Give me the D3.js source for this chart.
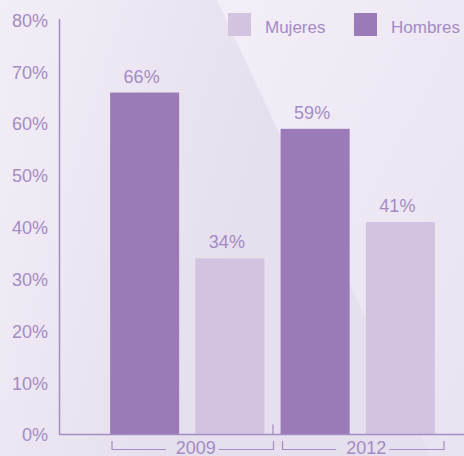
<!DOCTYPE html>
<html>
<head>
<meta charset="utf-8">
<script src="https://cdn.jsdelivr.net/npm/d3@7"></script>
<style>
  html, body { margin: 0; padding: 0; background: #ece5f2; }
  svg { display: block; font-family: "Liberation Sans", Arial, sans-serif; }
</style>
</head>
<body>
<div id="chart"></div>
<script>
// Chart data
const years = ['2009', '2012'];
const genders = ['Hombres', 'Mujeres'];
const hombres = [66, 59];
const mujeres = [34, 41];
const yTicks = [0, 10, 20, 30, 40, 50, 60, 70, 80];
const legendOrder = ['Mujeres', 'Hombres'];

const width = 464, height = 456;
const colors = { Hombres: '#9a7bb7', Mujeres: '#d2c4e1' };
const textColor = '#a38bc5';
const axisColor = '#a48cc4';

const svg = d3.select('#chart').append('svg')
    .attr('width', width)
    .attr('height', height);

// Background gradients
const defs = svg.append('defs');
const bgGrad = defs.append('linearGradient').attr('id', 'bg')
    .attr('x1', '0%').attr('y1', '0%').attr('x2', '100%').attr('y2', '30%');
bgGrad.append('stop').attr('offset', '0%').attr('stop-color', '#f2eef7');
bgGrad.append('stop').attr('offset', '60%').attr('stop-color', '#e6dfed');
const hiGrad = defs.append('linearGradient').attr('id', 'hi')
    .attr('x1', '0%').attr('y1', '0%').attr('x2', '100%').attr('y2', '100%');
hiGrad.append('stop').attr('offset', '0%').attr('stop-color', '#f3eef8');
hiGrad.append('stop').attr('offset', '100%').attr('stop-color', '#e9e2f0');

svg.append('rect').attr('width', width).attr('height', height).attr('fill', 'url(#bg)');
svg.append('path')
    .attr('d', 'M217,0 L464,0 L464,456 L430,456 Z')
    .attr('fill', 'url(#hi)');

// Scales
const y = d3.scaleLinear().domain([0, 80]).range([434.5, 20]);
const x0 = d3.scaleBand().domain(years).range([102, 443]);
const x1 = d3.scaleBand().domain(genders).range([0, x0.bandwidth()])
    .paddingInner(0.19).paddingOuter(0.095);

const rows = [];
years.forEach((yr, i) => {
    rows.push({ year: yr, gender: 'Hombres', value: hombres[i] });
    rows.push({ year: yr, gender: 'Mujeres', value: mujeres[i] });
});

// Y axis labels (no tick marks)
const yAxis = d3.axisLeft(y).tickValues(yTicks).tickFormat(d => d + '%').tickSize(0).tickPadding(0);
const yg = svg.append('g').attr('transform', 'translate(48,0)').call(yAxis);
yg.select('.domain').remove();
yg.selectAll('text')
    .attr('fill', textColor)
    .attr('font-size', 18)
    .attr('font-family', '"Liberation Sans", Arial, sans-serif')
    .attr('dy', '0.35em');

// Bars
svg.append('g').selectAll('rect')
    .data(rows)
    .join('rect')
    .attr('x', d => x0(d.year) + x1(d.gender))
    .attr('y', d => y(d.value))
    .attr('width', x1.bandwidth())
    .attr('height', d => y(0) - y(d.value))
    .attr('fill', d => colors[d.gender]);

// Value labels
svg.append('g').selectAll('text')
    .data(rows)
    .join('text')
    .attr('x', d => x0(d.year) + x1(d.gender) + x1.bandwidth() / 2 - 3)
    .attr('y', d => y(d.value) - 10)
    .attr('text-anchor', 'middle')
    .attr('fill', textColor)
    .attr('font-size', 18)
    .text(d => d.value + '%');

// Axis lines
svg.append('line')
    .attr('x1', 59.5).attr('x2', 59.5)
    .attr('y1', 19).attr('y2', y(0))
    .attr('stroke', axisColor).attr('stroke-width', 1.5);
svg.append('line')
    .attr('x1', 59).attr('x2', width)
    .attr('y1', y(0)).attr('y2', y(0))
    .attr('stroke', axisColor).attr('stroke-width', 1.5);

// Separator tick between groups
const sepX = x0(years[1]) + 0.5;
svg.append('line')
    .attr('x1', sepX).attr('x2', sepX)
    .attr('y1', y(0) - 10).attr('y2', y(0))
    .attr('stroke', axisColor).attr('stroke-width', 1.2);

// Year brackets
const bracketY = 449.5;
years.forEach(yr => {
    const left = x0(yr) + 10;
    const right = x0(yr) + x0.bandwidth() + 1;
    const mid = (left + right) / 2 + 3;
    const g = svg.append('g');
    const label = g.append('text')
        .attr('x', mid)
        .attr('y', 454)
        .attr('text-anchor', 'middle')
        .attr('fill', textColor)
        .attr('font-size', 18)
        .text(yr);
    const w = label.node().getComputedTextLength();
    g.append('path')
        .attr('d', `M${left},441 V${bracketY} H${mid - w / 2 - 10}`)
        .attr('fill', 'none').attr('stroke', axisColor).attr('stroke-width', 1.2);
    g.append('path')
        .attr('d', `M${mid + w / 2 + 3},${bracketY} H${right} V441`)
        .attr('fill', 'none').attr('stroke', axisColor).attr('stroke-width', 1.2);
});

// Legend
const legendX = { Mujeres: 228, Hombres: 354 };
const legend = svg.append('g').selectAll('g')
    .data(legendOrder)
    .join('g')
    .attr('transform', d => `translate(${legendX[d]},13)`);
legend.append('rect')
    .attr('width', 23).attr('height', 23)
    .attr('fill', d => colors[d]);
legend.append('text')
    .attr('x', 37).attr('y', 20)
    .attr('fill', textColor)
    .attr('font-size', 17)
    .text(d => d);
</script>
</body>
</html>
